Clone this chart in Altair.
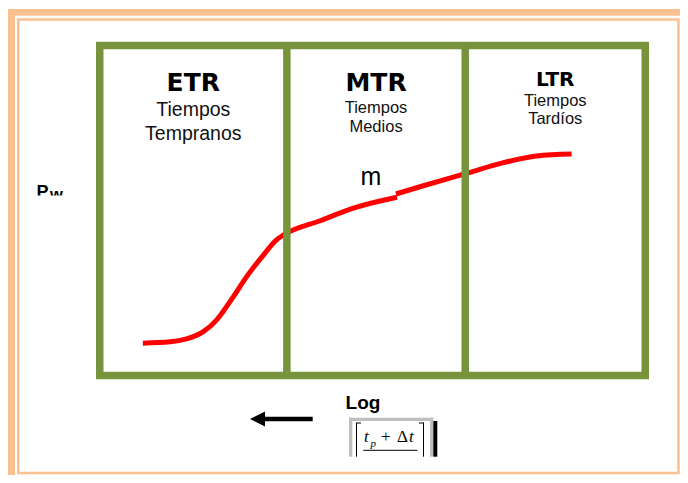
import altair as alt
import pandas as pd

# ---- data (schematic: log time vs Pw) ----
log_t_seg1 = [0.79, 1.29, 1.59, 1.90, 2.14, 2.45, 2.69, 3.00, 3.24, 3.37, 4.04, 4.65, 5.45]
pw_seg1 = [0.98, 1.02, 1.11, 1.33, 1.68, 2.39, 2.99, 3.65, 4.11, 4.26, 4.69, 5.07, 5.40]
log_t_seg2 = [5.43, 5.87, 6.73, 7.40, 8.01, 8.65]
pw_seg2 = [5.50, 5.72, 6.13, 6.45, 6.65, 6.71]
region_bounds = [0, 3.43, 6.70, 10]
region_codes = ["ETR", "MTR", "LTR"]
region_line1 = ["Tiempos", "Tiempos", "Tiempos"]
region_line2 = ["Tempranos", "Medios", "Tardíos"]

GREEN = "#77933C"
RED = "#FF0000"
ORANGE = "#FAC090"
GRAY = "#BFBFBF"

# plot area origin in page pixels (used only for decoration placement)
X0, Y0 = 99.75, 45.5
W, H = 545.5, 330
RIGHT = 680   # page x of the right edge of the drawing
BOTTOM = 475  # page y of the bottom edge of the drawing


def vx(px):
    return px - X0


def vy(py):
    return py - Y0


xs = alt.Scale(domain=[0, 10], nice=False, zero=False)
ys = alt.Scale(domain=[0, 10], nice=False, zero=False)

curve_df = pd.DataFrame({
    "t": log_t_seg1 + log_t_seg2,
    "pw": pw_seg1 + pw_seg2,
    "seg": ["a"] * len(log_t_seg1) + ["b"] * len(log_t_seg2),
})
bounds_df = pd.DataFrame({"b": region_bounds[1:-1]})
mids = [(region_bounds[i] + region_bounds[i + 1]) / 2 for i in range(3)]

one = pd.DataFrame({"a": [0]})

layers = []


def rect(x1, y1, x2, y2, color):
    return alt.Chart(one).mark_rect(color=color, opacity=1).encode(
        x=alt.value(vx(x1)), x2=alt.value(vx(x2)),
        y=alt.value(vy(y1)), y2=alt.value(vy(y2)))


# orange frame
layers.append(rect(7.7, 9, 15, 500, ORANGE))
layers.append(rect(7.7, 9, 700, 15.7, ORANGE))
layers.append(alt.Chart(one).mark_rect(fill=None, stroke=ORANGE, strokeWidth=2.5).encode(
    x=alt.value(vx(18.3)), x2=alt.value(vx(RIGHT - 1.5)),
    y=alt.value(vy(19.5)), y2=alt.value(vy(BOTTOM - 2))))

# curve
layers.append(alt.Chart(curve_df).mark_line(
    color=RED, strokeWidth=5, strokeCap="butt", interpolate="monotone").encode(
    x=alt.X("t:Q", scale=xs, axis=None),
    y=alt.Y("pw:Q", scale=ys, axis=None),
    detail="seg:N"))

# dividers
layers.append(alt.Chart(bounds_df).mark_rule(color=GREEN, strokeWidth=7.5).encode(
    x=alt.X("b:Q", scale=xs, axis=None)))

# region labels
title_y = [91, 91, 86]
title_size = [25, 25, 20]
l1_y = [116, 112.7, 106]
l2_y = [140, 131.7, 124.3]
sub_size = [19.5, 16.5, 16.5]
for i in range(3):
    d = pd.DataFrame({"x": [mids[i]], "c": [region_codes[i]],
                      "l1": [region_line1[i]], "l2": [region_line2[i]]})
    base = alt.Chart(d)
    layers.append(base.mark_text(font="DejaVu Sans", fontWeight="bold", fontSize=title_size[i],
                                 align="center", baseline="alphabetic", color="black").encode(
        x=alt.X("x:Q", scale=xs, axis=None), y=alt.value(vy(title_y[i])), text="c:N"))
    layers.append(base.mark_text(font="Liberation Sans", fontSize=sub_size[i],
                                 align="center", baseline="alphabetic", color="#111111").encode(
        x=alt.X("x:Q", scale=xs, axis=None), y=alt.value(vy(l1_y[i])), text="l1:N"))
    layers.append(base.mark_text(font="Liberation Sans", fontSize=sub_size[i],
                                 align="center", baseline="alphabetic", color="#111111").encode(
        x=alt.X("x:Q", scale=xs, axis=None), y=alt.value(vy(l2_y[i])), text="l2:N"))


def txt(s, px, py, size, **kw):
    return alt.Chart(pd.DataFrame({"s": [s]})).mark_text(
        fontSize=size, baseline="alphabetic", color="black", **kw).encode(
        x=alt.value(vx(px)), y=alt.value(vy(py)), text="s:N")


layers.append(txt("m", 371, 185, 25, font="Liberation Sans", align="center"))
layers.append(txt("P", 36.5, 197.5, 18, font="Liberation Sans", fontWeight="bold", align="left"))
layers.append(txt("w", 50, 200, 16.5, font="Liberation Sans", fontWeight="bold", align="left"))
layers.append(rect(30, 195.5, 85, 212, "white"))
layers.append(txt("Log", 363, 409.3, 19, font="Liberation Sans", fontWeight="bold", align="center"))

# arrow
layers.append(alt.Chart(one).mark_rule(color="black", strokeWidth=4.5).encode(
    x=alt.value(vx(262)), x2=alt.value(vx(312.7)), y=alt.value(vy(419))))
layers.append(alt.Chart(one).mark_point(shape="M-1,0L1,-1L1,1Z", filled=True, color="black",
                                        size=225, opacity=1, strokeWidth=0).encode(
    x=alt.value(vx(257.5)), y=alt.value(vy(419))))

# formula box
FB = 456.7
layers.append(rect(349, 417.7, 433.3, 421, GRAY))
layers.append(rect(349, 417.7, 352.3, FB, GRAY))
layers.append(rect(430, 417.7, 433.3, FB, GRAY))
layers.append(rect(433.3, 421, 437.3, FB, "black"))


def line(x1, y1, x2, y2, w=1):
    return alt.Chart(one).mark_rule(color="black", strokeWidth=w).encode(
        x=alt.value(vx(x1)), x2=alt.value(vx(x2)),
        y=alt.value(vy(y1)), y2=alt.value(vy(y2)))


layers.append(line(356.5, 422.5, 356.5, FB))
layers.append(line(356.5, 423, 361, 423))
layers.append(line(423.5, 422.5, 423.5, FB))
layers.append(line(419, 423, 423.5, 423))
layers.append(line(363.3, 450.3, 417.3, 450.3))
layers.append(txt("t", 364, 441.5, 17, font="Liberation Serif", fontStyle="italic", align="left"))
layers.append(txt("p", 370.5, 446.5, 11, font="Liberation Serif", fontStyle="italic", align="left"))
layers.append(txt("+", 381, 441.5, 17, font="Liberation Serif", align="left"))
layers.append(txt("Δ", 397, 441.5, 17, font="Liberation Serif", align="left"))
layers.append(txt("t", 409, 441.5, 17, font="Liberation Serif", fontStyle="italic", align="left"))

chart = alt.layer(*layers).properties(
    width=W, height=H,
    autosize=alt.AutoSizeParams(type="none"),
    padding={"left": 91.75, "top": 37.5,
             "right": RIGHT - 8 - 91.75 - W, "bottom": BOTTOM - 8 - 37.5 - H},
    background="white",
).configure_view(stroke=GREEN, strokeWidth=7.5, fill=None)

chart.save("out.html", embed_options={"renderer": "svg", "actions": False})
